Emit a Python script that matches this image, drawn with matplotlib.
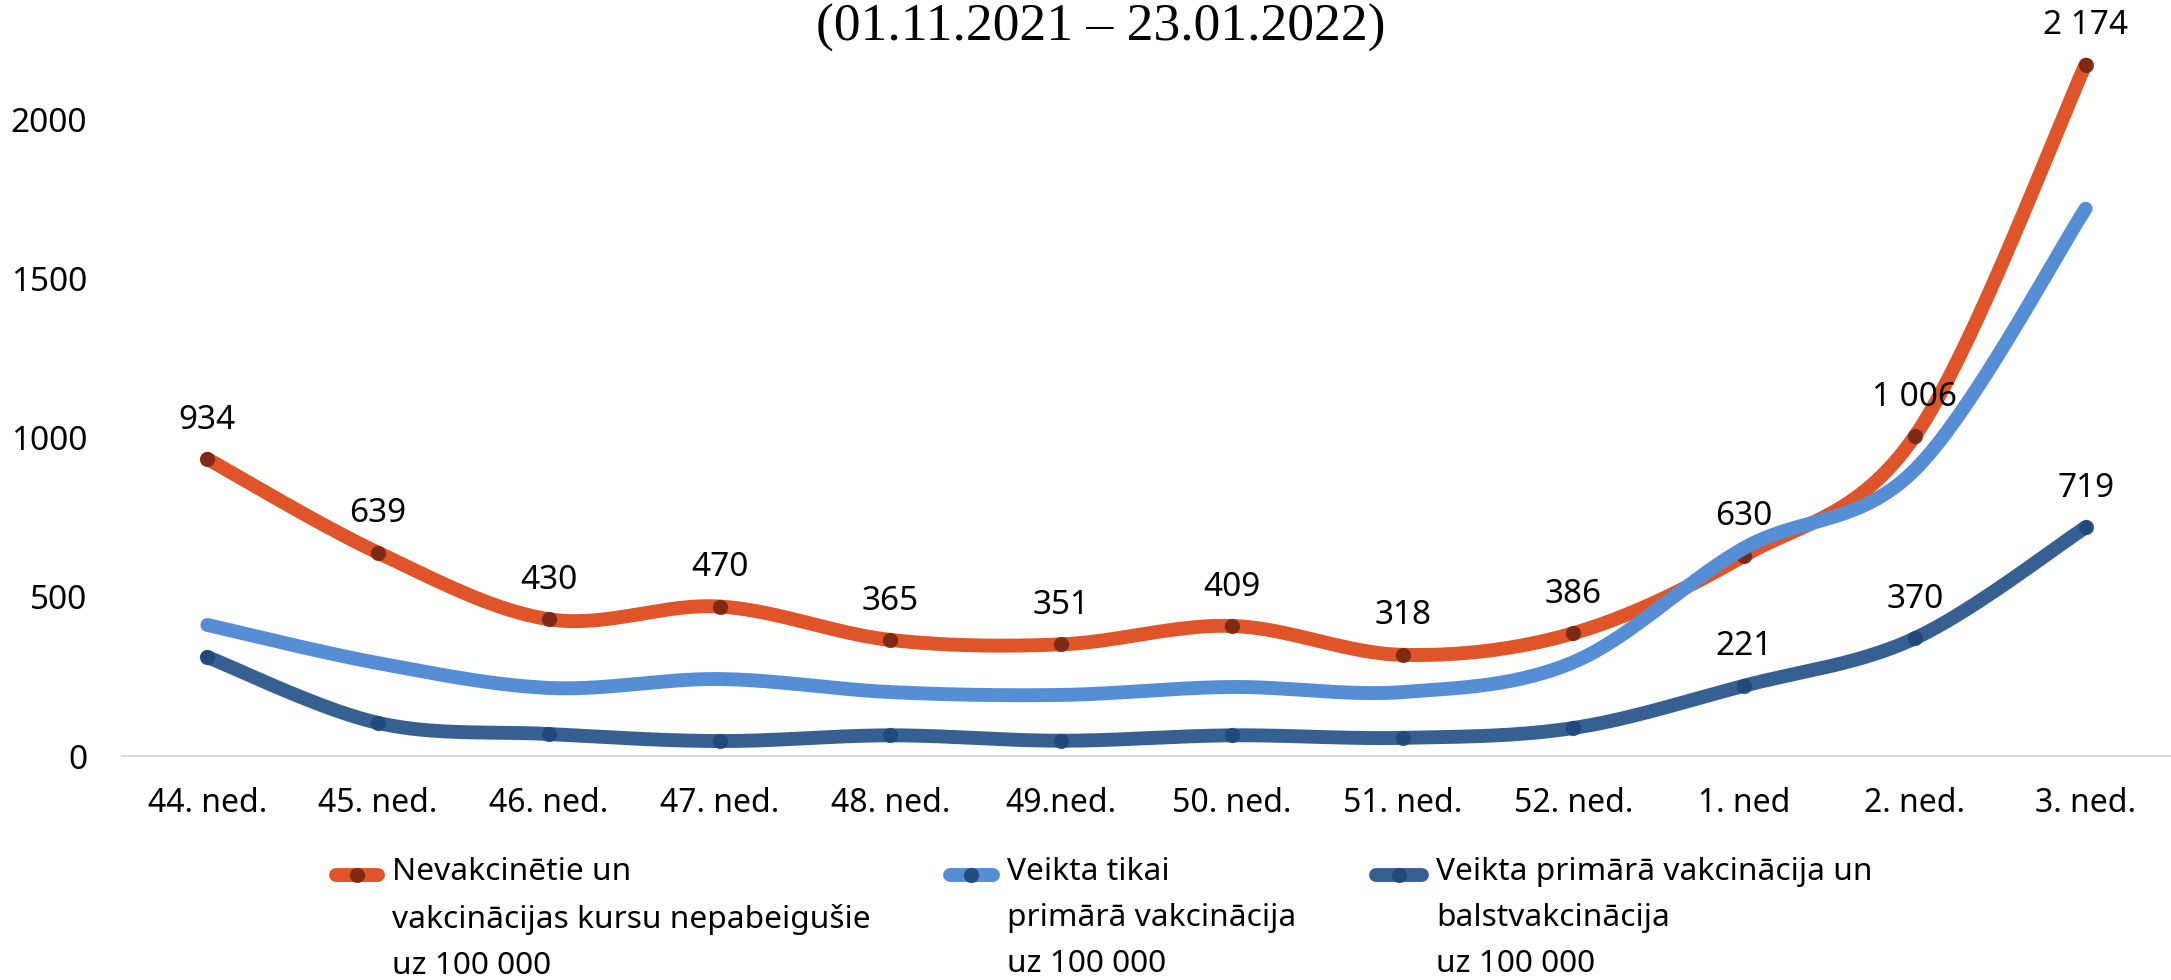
import numpy as np
import matplotlib
matplotlib.use("Agg")
import matplotlib.pyplot as plt
from matplotlib.lines import Line2D

# ---- data -------------------------------------------------------------
weeks = ["44. ned.", "45. ned.", "46. ned.", "47. ned.", "48. ned.", "49.ned.",
         "50. ned.", "51. ned.", "52. ned.", "1. ned", "2. ned.", "3. ned."]
unvaccinated = [934, 639, 430, 470, 365, 351, 409, 318, 386, 630, 1006, 2174]
primary_only = [412, 292, 214, 242, 201, 192, 217, 201, 295, 654, 900, 1721]
primary_booster = [311, 104, 69, 47, 65, 48, 65, 57, 88, 221, 370, 719]
booster_labelled = [False] * 9 + [True, True, True]

labels = ["Nevakcinētie un\nvakcinācijas kursu nepabeigušie\nuz 100 000",
          "Veikta tikai\nprimārā vakcinācija\nuz 100 000",
          "Veikta primārā vakcinācija un\nbalstvakcinācija\nuz 100 000"]
title = "(01.11.2021 – 23.01.2022)"

ORANGE = "#E0542A"
LIGHT_BLUE = "#558ED5"
DARK_BLUE = "#366092"
plt.rcParams["font.family"] = ["Noto Sans", "DejaVu Sans"]


def smooth(xs, ys, n=40):
    """Catmull-Rom style bezier smoothing, like Excel's smoothed line."""
    p = np.column_stack([xs, ys]).astype(float)
    out = []
    for i in range(len(p) - 1):
        p0 = p[i - 1] if i > 0 else p[i]
        p3 = p[i + 2] if i + 2 < len(p) else p[i + 1]
        c1 = p[i] + (p[i + 1] - p0) / 6
        c2 = p[i + 1] - (p3 - p[i]) / 6
        t = np.linspace(0, 1, n)[:, None]
        seg = ((1 - t) ** 3 * p[i] + 3 * (1 - t) ** 2 * t * c1
               + 3 * (1 - t) * t ** 2 * c2 + t ** 3 * p[i + 1])
        out.append(seg if i == 0 else seg[1:])
    out = np.vstack(out)
    return out[:, 0], out[:, 1]


def fmt(v):
    return f"{v:,}".replace(",", " ")


fig = plt.figure(figsize=(21.71, 9.80), dpi=100)
ax = fig.add_axes([122 / 2171, 224 / 980, 1 - 122 / 2171, 756 / 980])
x = np.arange(len(weeks))
lw = 10
ms = 11

sx, sy = smooth(x, unvaccinated)
ax.plot(sx, sy, color=ORANGE, lw=lw, solid_capstyle="round", zorder=2)
ax.plot(x, unvaccinated, "o", color="#6E2410", alpha=0.85, ms=ms, mew=0, zorder=2)

sx, sy = smooth(x, primary_only)
ax.plot(sx, sy, color=LIGHT_BLUE, lw=lw, solid_capstyle="round", zorder=3)

sx, sy = smooth(x, primary_booster)
ax.plot(sx, sy, color=DARK_BLUE, lw=lw, solid_capstyle="round", zorder=4)
ax.plot(x, primary_booster, "o", color="#1F4678", alpha=0.85, ms=ms, mew=0, zorder=4)

for xi, v in zip(x, unvaccinated):
    ax.annotate(fmt(v), (xi, v), xytext=(0, 28), textcoords="offset points",
                ha="center", va="center", fontsize=24, zorder=6)
for xi, v, show in zip(x, primary_booster, booster_labelled):
    if show:
        ax.annotate(fmt(v), (xi, v), xytext=(0, 28), textcoords="offset points",
                    ha="center", va="center", fontsize=24, zorder=6)

ax.set_xlim(-0.5, len(weeks) - 0.5)
ax.set_ylim(0, 2377)
ax.set_xticks(x)
ax.set_xticklabels(weeks, fontsize=23)
ax.set_yticks([0, 500, 1000, 1500, 2000])
ax.set_yticklabels(["0", "500", "1000", "1500", "2000"], fontsize=24)
ax.tick_params(axis="both", length=0)
ax.tick_params(axis="x", pad=22)
ax.tick_params(axis="y", pad=25)
for s in ["top", "right", "left"]:
    ax.spines[s].set_visible(False)
ax.spines["bottom"].set_color("#D9D9D9")
ax.spines["bottom"].set_linewidth(1.5)

fig.text(1101 / 2171, 1 - 28 / 980, title, ha="center", va="center",
         fontsize=38.5, family="Liberation Serif")

# legend, drawn by hand so the handle sits on the first text line
legend_items = [
    (328, 392, ORANGE, "#6E2410", labels[0]),
    (942, 1007, LIGHT_BLUE, "#1F3F6E", labels[1]),
    (1368, 1436, DARK_BLUE, "#1F4678", labels[2]),
]
ly = 1 - 875 / 980
for hx, tx, col, mcol, lab in legend_items:
    x0, x1 = (hx + 8) / 2171, (tx - 14) / 2171
    fig.add_artist(Line2D([x0, x1], [ly, ly], color=col, lw=lw,
                          solid_capstyle="round", transform=fig.transFigure))
    fig.add_artist(Line2D([(x0 + x1) / 2], [ly], marker="o", color=mcol, ms=ms,
                          mew=0, alpha=0.85, transform=fig.transFigure))
    fig.text(tx / 2171, ly + 18 / 980, lab, ha="left", va="top", fontsize=22.8,
             linespacing=1.7)

fig.savefig("out.png", dpi=100)
